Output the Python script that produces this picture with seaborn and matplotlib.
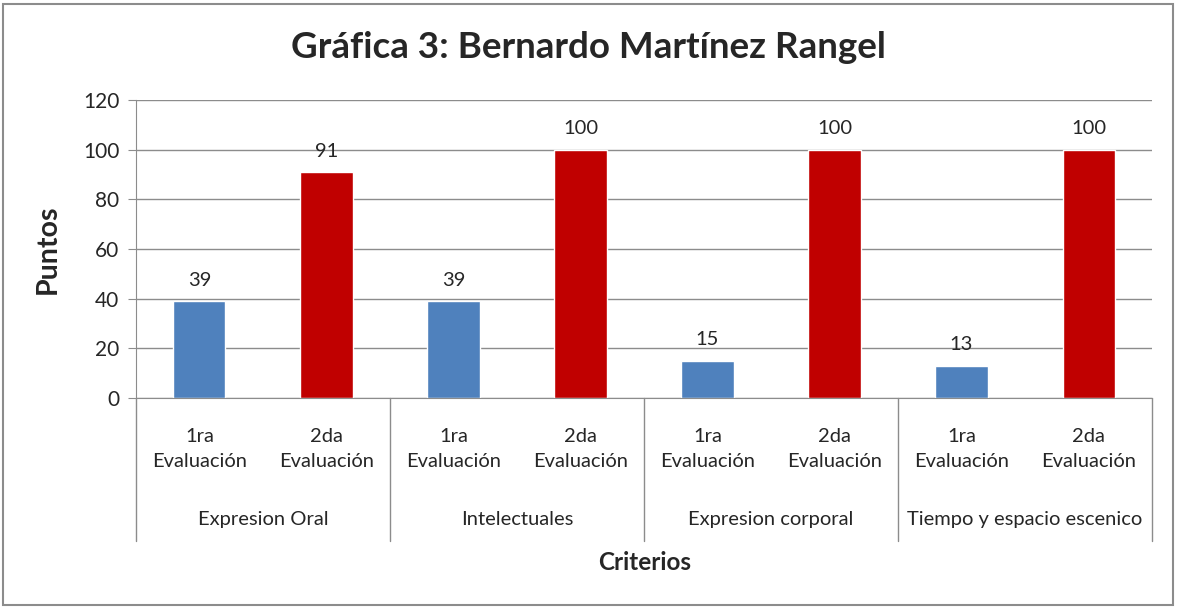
import pandas as pd
import numpy as np
import matplotlib.pyplot as plt
import seaborn as sns
from matplotlib.patches import Rectangle

sns.set_style("white")
plt.rcParams['font.family'] = ['Lato', 'DejaVu Sans']

criterios = ["Expresion Oral", "Intelectuales", "Expresion corporal", "Tiempo y espacio escenico"]
evaluaciones = ["1ra\nEvaluación", "2da\nEvaluación"]
primera = [39, 39, 15, 13]
segunda = [91, 100, 100, 100]

df = pd.DataFrame({
    "Criterio": criterios * 2,
    "Evaluacion": [evaluaciones[0]] * 4 + [evaluaciones[1]] * 4,
    "Puntos": primera + segunda,
})

fig = plt.figure(figsize=(11.77, 6.08), dpi=100)
ax = fig.add_axes([0.1155, 0.3454, 0.8633, 0.4901])

sns.barplot(data=df, x="Criterio", y="Puntos", hue="Evaluacion",
            hue_order=evaluaciones, order=criterios,
            palette=["#4F81BD", "#C00000"], width=1.0, gap=0.59,
            saturation=1, legend=False, ax=ax)

for c in ax.containers:
    ax.bar_label(c, padding=9, fontsize=14.5, color="#262626")

ax.set_ylim(0, 120)
ax.set_yticks(range(0, 121, 20))
ax.set_xlim(-0.5, 3.5)
ax.yaxis.grid(True, color="#8c8c8c", linewidth=1)
ax.set_axisbelow(True)
for s in ["top", "right"]:
    ax.spines[s].set_visible(False)
for s in ["left", "bottom"]:
    ax.spines[s].set_color("#8c8c8c")
ax.tick_params(axis="y", left=True, length=6, color="#8c8c8c", labelsize=15,
               labelcolor="#262626", pad=6)

# sub-category ticks
pos = []
labs = []
for g in range(len(criterios)):
    pos += [g - 0.25, g + 0.25]
    labs += evaluaciones
ax.set_xticks(pos)
ax.set_xticklabels(labs, fontsize=14.5, color="#262626", linespacing=1.6)
ax.tick_params(axis="x", bottom=False, pad=18)

# group labels and separators
trans = ax.get_xaxis_transform()
sep_bottom = -(541 - 398) / 298
for g, name in enumerate(criterios):
    ax.text(g, -(520 - 398) / 298, name, transform=trans, ha="center", va="center",
            fontsize=14.5, color="#262626")
for x in np.arange(-0.5, 4.0, 1.0):
    ax.plot([x, x], [0, sep_bottom], transform=trans, color="#8c8c8c",
            linewidth=1, clip_on=False)

ax.set_xlabel("")
ax.set_ylabel("Puntos", fontsize=20.5, fontweight="bold", labelpad=16)
fig.text(645 / 1177, 1 - 563 / 608, "Criterios", ha="center", va="center",
         fontsize=17.5, fontweight="bold")
fig.text(588 / 1177, 1 - 48 / 608, "Gráfica 3: Bernardo Martínez Rangel",
         ha="center", va="center", fontsize=26.5, fontweight="bold")

fig.patches.append(Rectangle((3 / 1177, 3 / 608), 1170 / 1177, 601 / 608,
                             transform=fig.transFigure, fill=False,
                             edgecolor="#8c8c8c", linewidth=1.5))

fig.savefig("out.png", dpi=100)
